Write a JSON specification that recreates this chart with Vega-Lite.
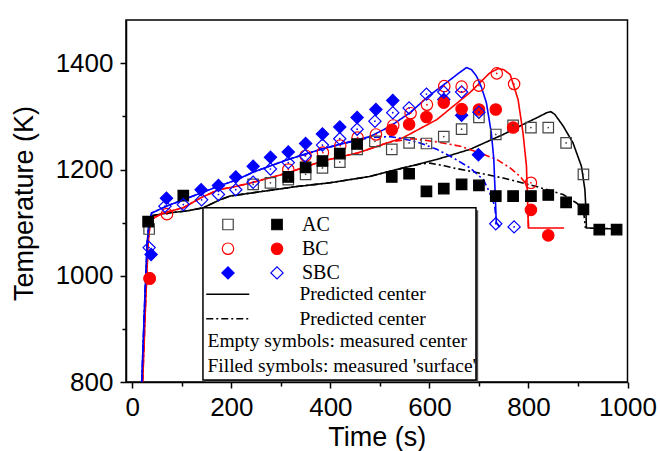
{
  "$schema": "https://vega.github.io/schema/vega-lite/v6.json",
  "width": 501.5,
  "height": 362,
  "autosize": {"type": "none"},
  "padding": {"left": 126, "top": 20, "right": 32.5, "bottom": 69},
  "background": "white",
  "config": {
    "font": "Liberation Sans",
    "view": {"stroke": "#000000", "strokeWidth": 1.5},
    "axis": {"grid": false, "domainColor": "#000000", "domainWidth": 1.5, "tickColor": "#000000", "tickWidth": 1.5, "labelColor": "#000000", "titleColor": "#000000", "labelFont": "Liberation Sans", "titleFont": "Liberation Sans", "labelFontSize": 26, "titleFontSize": 27, "titleFontWeight": "normal", "format": "d"},
    "legend": {"labelLimit": 400, "padding": 0, "labelColor": "#000000", "labelFont": "Liberation Serif"}
  },
  "datasets": {
    "meas": [
      {"t": 34, "T": 1088, "s": "AC", "loc": "center"},
      {"t": 244, "T": 1172, "s": "AC", "loc": "center"},
      {"t": 279, "T": 1175, "s": "AC", "loc": "center"},
      {"t": 315, "T": 1181, "s": "AC", "loc": "center"},
      {"t": 350, "T": 1191, "s": "AC", "loc": "center"},
      {"t": 384, "T": 1203, "s": "AC", "loc": "center"},
      {"t": 419, "T": 1214, "s": "AC", "loc": "center"},
      {"t": 454, "T": 1238, "s": "AC", "loc": "center"},
      {"t": 490, "T": 1253, "s": "AC", "loc": "center"},
      {"t": 524, "T": 1238, "s": "AC", "loc": "center"},
      {"t": 559, "T": 1250, "s": "AC", "loc": "center"},
      {"t": 594, "T": 1249, "s": "AC", "loc": "center"},
      {"t": 629, "T": 1262, "s": "AC", "loc": "center"},
      {"t": 665, "T": 1276, "s": "AC", "loc": "center"},
      {"t": 700, "T": 1298, "s": "AC", "loc": "center"},
      {"t": 734, "T": 1266, "s": "AC", "loc": "center"},
      {"t": 769, "T": 1283, "s": "AC", "loc": "center"},
      {"t": 805, "T": 1279, "s": "AC", "loc": "center"},
      {"t": 840, "T": 1279, "s": "AC", "loc": "center"},
      {"t": 876, "T": 1250, "s": "AC", "loc": "center"},
      {"t": 911, "T": 1191, "s": "AC", "loc": "center"},
      {"t": 32, "T": 1102, "s": "AC", "loc": "surface"},
      {"t": 103, "T": 1151, "s": "AC", "loc": "surface"},
      {"t": 315, "T": 1186, "s": "AC", "loc": "surface"},
      {"t": 350, "T": 1204, "s": "AC", "loc": "surface"},
      {"t": 384, "T": 1216, "s": "AC", "loc": "surface"},
      {"t": 419, "T": 1230, "s": "AC", "loc": "surface"},
      {"t": 454, "T": 1248, "s": "AC", "loc": "surface"},
      {"t": 524, "T": 1186, "s": "AC", "loc": "surface"},
      {"t": 559, "T": 1192, "s": "AC", "loc": "surface"},
      {"t": 594, "T": 1159, "s": "AC", "loc": "surface"},
      {"t": 629, "T": 1164, "s": "AC", "loc": "surface"},
      {"t": 665, "T": 1172, "s": "AC", "loc": "surface"},
      {"t": 700, "T": 1170, "s": "AC", "loc": "surface"},
      {"t": 734, "T": 1150, "s": "AC", "loc": "surface"},
      {"t": 769, "T": 1150, "s": "AC", "loc": "surface"},
      {"t": 805, "T": 1150, "s": "AC", "loc": "surface"},
      {"t": 840, "T": 1152, "s": "AC", "loc": "surface"},
      {"t": 876, "T": 1138, "s": "AC", "loc": "surface"},
      {"t": 911, "T": 1125, "s": "AC", "loc": "surface"},
      {"t": 943, "T": 1087, "s": "AC", "loc": "surface"},
      {"t": 978, "T": 1087, "s": "AC", "loc": "surface"},
      {"t": 35, "T": 995, "s": "BC", "loc": "center"},
      {"t": 70, "T": 1116, "s": "BC", "loc": "center"},
      {"t": 315, "T": 1200, "s": "BC", "loc": "center"},
      {"t": 350, "T": 1226, "s": "BC", "loc": "center"},
      {"t": 385, "T": 1232, "s": "BC", "loc": "center"},
      {"t": 420, "T": 1245, "s": "BC", "loc": "center"},
      {"t": 455, "T": 1260, "s": "BC", "loc": "center"},
      {"t": 492, "T": 1266, "s": "BC", "loc": "center"},
      {"t": 527, "T": 1283, "s": "BC", "loc": "center"},
      {"t": 562, "T": 1306, "s": "BC", "loc": "center"},
      {"t": 595, "T": 1322, "s": "BC", "loc": "center"},
      {"t": 630, "T": 1357, "s": "BC", "loc": "center"},
      {"t": 665, "T": 1356, "s": "BC", "loc": "center"},
      {"t": 700, "T": 1358, "s": "BC", "loc": "center"},
      {"t": 736, "T": 1381, "s": "BC", "loc": "center"},
      {"t": 771, "T": 1361, "s": "BC", "loc": "center"},
      {"t": 805, "T": 1175, "s": "BC", "loc": "center"},
      {"t": 35, "T": 995, "s": "BC", "loc": "surface"},
      {"t": 524, "T": 1275, "s": "BC", "loc": "surface"},
      {"t": 559, "T": 1285, "s": "BC", "loc": "surface"},
      {"t": 594, "T": 1299, "s": "BC", "loc": "surface"},
      {"t": 629, "T": 1326, "s": "BC", "loc": "surface"},
      {"t": 665, "T": 1314, "s": "BC", "loc": "surface"},
      {"t": 700, "T": 1313, "s": "BC", "loc": "surface"},
      {"t": 734, "T": 1313, "s": "BC", "loc": "surface"},
      {"t": 769, "T": 1279, "s": "BC", "loc": "surface"},
      {"t": 805, "T": 1124, "s": "BC", "loc": "surface"},
      {"t": 840, "T": 1076, "s": "BC", "loc": "surface"},
      {"t": 38, "T": 1040, "s": "SBC", "loc": "surface"},
      {"t": 69, "T": 1146, "s": "SBC", "loc": "surface"},
      {"t": 139, "T": 1162, "s": "SBC", "loc": "surface"},
      {"t": 174, "T": 1170, "s": "SBC", "loc": "surface"},
      {"t": 209, "T": 1186, "s": "SBC", "loc": "surface"},
      {"t": 244, "T": 1206, "s": "SBC", "loc": "surface"},
      {"t": 279, "T": 1223, "s": "SBC", "loc": "surface"},
      {"t": 315, "T": 1233, "s": "SBC", "loc": "surface"},
      {"t": 350, "T": 1249, "s": "SBC", "loc": "surface"},
      {"t": 384, "T": 1267, "s": "SBC", "loc": "surface"},
      {"t": 419, "T": 1280, "s": "SBC", "loc": "surface"},
      {"t": 454, "T": 1298, "s": "SBC", "loc": "surface"},
      {"t": 492, "T": 1313, "s": "SBC", "loc": "surface"},
      {"t": 526, "T": 1330, "s": "SBC", "loc": "surface"},
      {"t": 629, "T": 1332, "s": "SBC", "loc": "surface"},
      {"t": 665, "T": 1302, "s": "SBC", "loc": "surface"},
      {"t": 699, "T": 1228, "s": "SBC", "loc": "surface"},
      {"t": 34, "T": 1053, "s": "SBC", "loc": "center"},
      {"t": 66, "T": 1131, "s": "SBC", "loc": "center"},
      {"t": 103, "T": 1134, "s": "SBC", "loc": "center"},
      {"t": 140, "T": 1143, "s": "SBC", "loc": "center"},
      {"t": 174, "T": 1153, "s": "SBC", "loc": "center"},
      {"t": 209, "T": 1162, "s": "SBC", "loc": "center"},
      {"t": 244, "T": 1176, "s": "SBC", "loc": "center"},
      {"t": 279, "T": 1201, "s": "SBC", "loc": "center"},
      {"t": 315, "T": 1213, "s": "SBC", "loc": "center"},
      {"t": 349, "T": 1226, "s": "SBC", "loc": "center"},
      {"t": 384, "T": 1246, "s": "SBC", "loc": "center"},
      {"t": 419, "T": 1258, "s": "SBC", "loc": "center"},
      {"t": 454, "T": 1276, "s": "SBC", "loc": "center"},
      {"t": 490, "T": 1291, "s": "SBC", "loc": "center"},
      {"t": 526, "T": 1307, "s": "SBC", "loc": "center"},
      {"t": 559, "T": 1316, "s": "SBC", "loc": "center"},
      {"t": 594, "T": 1342, "s": "SBC", "loc": "center"},
      {"t": 629, "T": 1346, "s": "SBC", "loc": "center"},
      {"t": 665, "T": 1346, "s": "SBC", "loc": "center"},
      {"t": 700, "T": 1308, "s": "SBC", "loc": "center"},
      {"t": 734, "T": 1098, "s": "SBC", "loc": "center"},
      {"t": 771, "T": 1092, "s": "SBC", "loc": "center"}
    ],
    "lines": [
      {"t": 20, "T": 800, "s": "AC", "k": "solid"}, {"t": 26, "T": 960, "s": "AC", "k": "solid"}, {"t": 31, "T": 1070, "s": "AC", "k": "solid"}, {"t": 35, "T": 1105, "s": "AC", "k": "solid"}, {"t": 40, "T": 1113, "s": "AC", "k": "solid"}, {"t": 70, "T": 1118, "s": "AC", "k": "solid"}, {"t": 110, "T": 1122, "s": "AC", "k": "solid"}, {"t": 143, "T": 1128, "s": "AC", "k": "solid"}, {"t": 177, "T": 1143, "s": "AC", "k": "solid"}, {"t": 197, "T": 1150, "s": "AC", "k": "solid"}, {"t": 264, "T": 1159, "s": "AC", "k": "solid"}, {"t": 332, "T": 1168, "s": "AC", "k": "solid"}, {"t": 399, "T": 1175, "s": "AC", "k": "solid"}, {"t": 480, "T": 1187, "s": "AC", "k": "solid"}, {"t": 547, "T": 1203, "s": "AC", "k": "solid"}, {"t": 615, "T": 1219, "s": "AC", "k": "solid"}, {"t": 682, "T": 1238, "s": "AC", "k": "solid"}, {"t": 749, "T": 1266, "s": "AC", "k": "solid"}, {"t": 783, "T": 1282, "s": "AC", "k": "solid"}, {"t": 816, "T": 1297, "s": "AC", "k": "solid"}, {"t": 837, "T": 1307, "s": "AC", "k": "solid"}, {"t": 845, "T": 1309, "s": "AC", "k": "solid"}, {"t": 853, "T": 1304, "s": "AC", "k": "solid"}, {"t": 870, "T": 1282, "s": "AC", "k": "solid"}, {"t": 890, "T": 1250, "s": "AC", "k": "solid"}, {"t": 907, "T": 1206, "s": "AC", "k": "solid"}, {"t": 914, "T": 1162, "s": "AC", "k": "solid"}, {"t": 916, "T": 1125, "s": "AC", "k": "solid"}, {"t": 917, "T": 1090, "s": "AC", "k": "solid"}, {"t": 980, "T": 1088, "s": "AC", "k": "solid"},
      {"t": 20, "T": 800, "s": "AC", "k": "dashdot"}, {"t": 26, "T": 960, "s": "AC", "k": "dashdot"}, {"t": 31, "T": 1070, "s": "AC", "k": "dashdot"}, {"t": 35, "T": 1105, "s": "AC", "k": "dashdot"}, {"t": 40, "T": 1113, "s": "AC", "k": "dashdot"}, {"t": 70, "T": 1118, "s": "AC", "k": "dashdot"}, {"t": 110, "T": 1122, "s": "AC", "k": "dashdot"}, {"t": 143, "T": 1128, "s": "AC", "k": "dashdot"}, {"t": 177, "T": 1143, "s": "AC", "k": "dashdot"}, {"t": 197, "T": 1150, "s": "AC", "k": "dashdot"}, {"t": 264, "T": 1159, "s": "AC", "k": "dashdot"}, {"t": 332, "T": 1168, "s": "AC", "k": "dashdot"}, {"t": 399, "T": 1175, "s": "AC", "k": "dashdot"}, {"t": 480, "T": 1187, "s": "AC", "k": "dashdot"}, {"t": 547, "T": 1203, "s": "AC", "k": "dashdot"}, {"t": 580, "T": 1210, "s": "AC", "k": "dashdot"}, {"t": 601, "T": 1212, "s": "AC", "k": "dashdot"}, {"t": 630, "T": 1207, "s": "AC", "k": "dashdot"}, {"t": 648, "T": 1203, "s": "AC", "k": "dashdot"}, {"t": 682, "T": 1197, "s": "AC", "k": "dashdot"}, {"t": 749, "T": 1184, "s": "AC", "k": "dashdot"}, {"t": 816, "T": 1168, "s": "AC", "k": "dashdot"}, {"t": 870, "T": 1153, "s": "AC", "k": "dashdot"}, {"t": 897, "T": 1137, "s": "AC", "k": "dashdot"}, {"t": 911, "T": 1125, "s": "AC", "k": "dashdot"}, {"t": 915, "T": 1090, "s": "AC", "k": "dashdot"},
      {"t": 21, "T": 800, "s": "BC", "k": "solid"}, {"t": 27, "T": 950, "s": "BC", "k": "solid"}, {"t": 32, "T": 1060, "s": "BC", "k": "solid"}, {"t": 36, "T": 1100, "s": "BC", "k": "solid"}, {"t": 45, "T": 1110, "s": "BC", "k": "solid"}, {"t": 63, "T": 1118, "s": "BC", "k": "solid"}, {"t": 103, "T": 1128, "s": "BC", "k": "solid"}, {"t": 139, "T": 1147, "s": "BC", "k": "solid"}, {"t": 174, "T": 1162, "s": "BC", "k": "solid"}, {"t": 209, "T": 1168, "s": "BC", "k": "solid"}, {"t": 244, "T": 1176, "s": "BC", "k": "solid"}, {"t": 315, "T": 1194, "s": "BC", "k": "solid"}, {"t": 384, "T": 1216, "s": "BC", "k": "solid"}, {"t": 454, "T": 1231, "s": "BC", "k": "solid"}, {"t": 480, "T": 1239, "s": "BC", "k": "solid"}, {"t": 547, "T": 1260, "s": "BC", "k": "solid"}, {"t": 615, "T": 1294, "s": "BC", "k": "solid"}, {"t": 682, "T": 1345, "s": "BC", "k": "solid"}, {"t": 722, "T": 1382, "s": "BC", "k": "solid"}, {"t": 739, "T": 1390, "s": "BC", "k": "solid"}, {"t": 750, "T": 1388, "s": "BC", "k": "solid"}, {"t": 763, "T": 1379, "s": "BC", "k": "solid"}, {"t": 779, "T": 1332, "s": "BC", "k": "solid"}, {"t": 789, "T": 1269, "s": "BC", "k": "solid"}, {"t": 796, "T": 1206, "s": "BC", "k": "solid"}, {"t": 799, "T": 1115, "s": "BC", "k": "solid"}, {"t": 800, "T": 1090, "s": "BC", "k": "solid"}, {"t": 872, "T": 1090, "s": "BC", "k": "solid"},
      {"t": 21, "T": 800, "s": "BC", "k": "dashdot"}, {"t": 27, "T": 950, "s": "BC", "k": "dashdot"}, {"t": 32, "T": 1060, "s": "BC", "k": "dashdot"}, {"t": 36, "T": 1100, "s": "BC", "k": "dashdot"}, {"t": 45, "T": 1110, "s": "BC", "k": "dashdot"}, {"t": 63, "T": 1118, "s": "BC", "k": "dashdot"}, {"t": 103, "T": 1128, "s": "BC", "k": "dashdot"}, {"t": 139, "T": 1147, "s": "BC", "k": "dashdot"}, {"t": 174, "T": 1162, "s": "BC", "k": "dashdot"}, {"t": 209, "T": 1168, "s": "BC", "k": "dashdot"}, {"t": 244, "T": 1176, "s": "BC", "k": "dashdot"}, {"t": 315, "T": 1194, "s": "BC", "k": "dashdot"}, {"t": 384, "T": 1216, "s": "BC", "k": "dashdot"}, {"t": 454, "T": 1231, "s": "BC", "k": "dashdot"}, {"t": 480, "T": 1239, "s": "BC", "k": "dashdot"}, {"t": 520, "T": 1252, "s": "BC", "k": "dashdot"}, {"t": 567, "T": 1258, "s": "BC", "k": "dashdot"}, {"t": 615, "T": 1252, "s": "BC", "k": "dashdot"}, {"t": 662, "T": 1244, "s": "BC", "k": "dashdot"}, {"t": 702, "T": 1231, "s": "BC", "k": "dashdot"}, {"t": 736, "T": 1219, "s": "BC", "k": "dashdot"}, {"t": 763, "T": 1203, "s": "BC", "k": "dashdot"}, {"t": 783, "T": 1187, "s": "BC", "k": "dashdot"}, {"t": 796, "T": 1172, "s": "BC", "k": "dashdot"}, {"t": 799, "T": 1140, "s": "BC", "k": "dashdot"}, {"t": 800, "T": 1090, "s": "BC", "k": "dashdot"},
      {"t": 19, "T": 800, "s": "SBC", "k": "solid"}, {"t": 25, "T": 950, "s": "SBC", "k": "solid"}, {"t": 30, "T": 1060, "s": "SBC", "k": "solid"}, {"t": 34, "T": 1100, "s": "SBC", "k": "solid"}, {"t": 39, "T": 1118, "s": "SBC", "k": "solid"}, {"t": 69, "T": 1131, "s": "SBC", "k": "solid"}, {"t": 139, "T": 1156, "s": "SBC", "k": "solid"}, {"t": 175, "T": 1169, "s": "SBC", "k": "solid"}, {"t": 209, "T": 1180, "s": "SBC", "k": "solid"}, {"t": 244, "T": 1195, "s": "SBC", "k": "solid"}, {"t": 315, "T": 1219, "s": "SBC", "k": "solid"}, {"t": 384, "T": 1239, "s": "SBC", "k": "solid"}, {"t": 480, "T": 1262, "s": "SBC", "k": "solid"}, {"t": 520, "T": 1281, "s": "SBC", "k": "solid"}, {"t": 561, "T": 1307, "s": "SBC", "k": "solid"}, {"t": 598, "T": 1338, "s": "SBC", "k": "solid"}, {"t": 635, "T": 1364, "s": "SBC", "k": "solid"}, {"t": 660, "T": 1382, "s": "SBC", "k": "solid"}, {"t": 675, "T": 1392, "s": "SBC", "k": "solid"}, {"t": 685, "T": 1388, "s": "SBC", "k": "solid"}, {"t": 695, "T": 1376, "s": "SBC", "k": "solid"}, {"t": 705, "T": 1355, "s": "SBC", "k": "solid"}, {"t": 715, "T": 1326, "s": "SBC", "k": "solid"}, {"t": 725, "T": 1269, "s": "SBC", "k": "solid"}, {"t": 730, "T": 1220, "s": "SBC", "k": "solid"}, {"t": 733, "T": 1150, "s": "SBC", "k": "solid"}, {"t": 735, "T": 1100, "s": "SBC", "k": "solid"}, {"t": 742, "T": 1092, "s": "SBC", "k": "solid"},
      {"t": 19, "T": 800, "s": "SBC", "k": "dashdot"}, {"t": 25, "T": 950, "s": "SBC", "k": "dashdot"}, {"t": 30, "T": 1060, "s": "SBC", "k": "dashdot"}, {"t": 34, "T": 1100, "s": "SBC", "k": "dashdot"}, {"t": 39, "T": 1118, "s": "SBC", "k": "dashdot"}, {"t": 69, "T": 1131, "s": "SBC", "k": "dashdot"}, {"t": 139, "T": 1156, "s": "SBC", "k": "dashdot"}, {"t": 175, "T": 1169, "s": "SBC", "k": "dashdot"}, {"t": 209, "T": 1180, "s": "SBC", "k": "dashdot"}, {"t": 244, "T": 1195, "s": "SBC", "k": "dashdot"}, {"t": 315, "T": 1219, "s": "SBC", "k": "dashdot"}, {"t": 384, "T": 1239, "s": "SBC", "k": "dashdot"}, {"t": 440, "T": 1252, "s": "SBC", "k": "dashdot"}, {"t": 480, "T": 1260, "s": "SBC", "k": "dashdot"}, {"t": 520, "T": 1262, "s": "SBC", "k": "dashdot"}, {"t": 548, "T": 1258, "s": "SBC", "k": "dashdot"}, {"t": 581, "T": 1250, "s": "SBC", "k": "dashdot"}, {"t": 615, "T": 1238, "s": "SBC", "k": "dashdot"}, {"t": 648, "T": 1222, "s": "SBC", "k": "dashdot"}, {"t": 682, "T": 1203, "s": "SBC", "k": "dashdot"}, {"t": 709, "T": 1181, "s": "SBC", "k": "dashdot"}, {"t": 722, "T": 1156, "s": "SBC", "k": "dashdot"}, {"t": 732, "T": 1131, "s": "SBC", "k": "dashdot"}, {"t": 735, "T": 1100, "s": "SBC", "k": "dashdot"}, {"t": 742, "T": 1092, "s": "SBC", "k": "dashdot"}
    ]
  },
  "layer": [
    {
      "data": {"name": "lines"},
      "mark": {"type": "line", "strokeWidth": 1.6, "clip": true},
      "encoding": {
        "x": {"field": "t", "type": "quantitative", "scale": {"domain": [-12.7, 1000], "nice": false, "zero": false},
          "axis": {"title": "Time (s)", "values": [0, 100, 200, 300, 400, 500, 600, 700, 800, 900, 1000], "labelExpr": "datum.value % 200 === 0 ? datum.label : ''", "labelFlush": false, "labelOverlap": false, "tickSize": {"condition": {"test": "datum.value % 200 === 0", "value": 6}, "value": 4}, "labelPadding": 6, "titleY": 42, "titleBaseline": "top"}},
        "y": {"field": "T", "type": "quantitative", "scale": {"domain": [800, 1481.5], "nice": false, "zero": false},
          "axis": {"title": "Temperature (K)", "values": [800, 900, 1000, 1100, 1200, 1300, 1400], "labelExpr": "datum.value % 200 === 0 ? datum.label : ''", "labelOverlap": false, "tickSize": {"condition": {"test": "datum.value % 200 === 0", "value": 6}, "value": 4}, "labelPadding": 7, "titleX": -88, "titleY": 183}},
        "stroke": {"field": "s", "type": "nominal", "scale": {"domain": ["AC", "BC", "SBC"], "range": ["#000000", "#ff0000", "#0000ff"]}, "legend": null},
        "strokeDash": {"field": "k", "type": "nominal", "scale": {"domain": ["solid", "dashdot"], "range": [[1, 0], [7, 3, 2, 3]]},
          "legend": {"orient": "none", "legendX": 92, "legendY": 264.5, "title": null, "symbolType": "M-2.5,0H2.5", "symbolSize": 296, "symbolStrokeColor": "#000000", "symbolStrokeWidth": 1.6, "symbolFillColor": "transparent", "labelExpr": "'Predicted center'", "labelFontSize": 19.5, "labelOffset": 62, "rowPadding": 3.5}}
      }
    },
    {
      "data": {"name": "meas"},
      "transform": [{"filter": "(datum.s != 'SBC' && datum.loc == 'center') || (datum.s == 'SBC' && datum.loc == 'surface')"}],
      "mark": {"type": "point", "strokeWidth": 1.2, "opacity": 1},
      "encoding": {
        "x": {"field": "t", "type": "quantitative"},
        "y": {"field": "T", "type": "quantitative"},
        "shape": {"field": "s", "type": "nominal", "scale": {"domain": ["AC", "BC", "SBC"], "range": ["square", "circle", "diamond"]},
          "legend": {"orient": "none", "legendX": 92, "legendY": 194.5, "title": null, "labelExpr": "''", "labelFontSize": 20, "rowPadding": 4.2, "symbolStrokeWidth": 1.2}},
        "size": {"field": "s", "type": "nominal", "scale": {"domain": ["AC", "BC", "SBC"], "range": [110, 150, 240]}},
        "stroke": {"field": "s", "type": "nominal", "scale": {"domain": ["AC", "BC", "SBC"], "range": ["#444444", "#ff0000", "#0000ff"]}},
        "fill": {"field": "s", "type": "nominal", "scale": {"domain": ["AC", "BC", "SBC"], "range": ["transparent", "transparent", "#0000ff"]}},
        "opacity": {"field": "loc", "type": "ordinal", "scale": {"type": "ordinal", "domain": ["center", "surface"], "range": [1, 1]},
          "legend": {"orient": "none", "legendX": 62, "legendY": 311.5, "title": null, "symbolOpacity": 0, "symbolSize": 0, "symbolStrokeWidth": 0, "labelOffset": 0, "labelFontSize": 19.5, "rowPadding": 4, "labelExpr": "datum.value == 'center' ? 'Empty symbols: measured center' : \"Filled symbols: measured 'surface'\""}}
      }
    },
    {
      "data": {"name": "meas"},
      "transform": [{"filter": "(datum.s != 'SBC' && datum.loc == 'surface') || (datum.s == 'SBC' && datum.loc == 'center')"}],
      "mark": {"type": "point", "strokeWidth": 1.2, "opacity": 1},
      "encoding": {
        "x": {"field": "t", "type": "quantitative"},
        "y": {"field": "T", "type": "quantitative"},
        "shape": {"field": "s", "type": "nominal", "scale": {"domain": ["AC", "BC", "SBC"], "range": ["square", "circle", "diamond"]},
          "legend": {"orient": "none", "legendX": 141, "legendY": 194.5, "title": null, "labelFontSize": 20, "labelOffset": 15, "rowPadding": 4.2, "symbolStrokeWidth": 1.2}},
        "size": {"field": "s", "type": "nominal", "scale": {"domain": ["AC", "BC", "SBC"], "range": [110, 150, 240]}},
        "stroke": {"field": "s", "type": "nominal", "scale": {"domain": ["AC", "BC", "SBC"], "range": ["#000000", "#ff0000", "#0000ff"]}},
        "fill": {"field": "s", "type": "nominal", "scale": {"domain": ["AC", "BC", "SBC"], "range": ["#000000", "#ff0000", "transparent"]}}
      }
    },
    {
      "data": {"name": "meas"},
      "transform": [{"filter": "datum.loc == 'center'"}],
      "mark": {"type": "point", "filled": true, "size": 3, "strokeWidth": 0, "opacity": 1},
      "encoding": {
        "x": {"field": "t", "type": "quantitative"},
        "y": {"field": "T", "type": "quantitative"},
        "fill": {"field": "s", "type": "nominal", "scale": {"domain": ["AC", "BC", "SBC"], "range": ["#444444", "#ff0000", "#0000ff"]}, "legend": null}
      }
    },
    {
      "data": {"values": [{}]},
      "mark": {"type": "rect", "fill": "#555555"},
      "encoding": {
        "x": {"datum": 147.5, "type": "quantitative"},
        "x2": {"datum": 698.5},
        "y": {"datum": 1123.5, "type": "quantitative"},
        "y2": {"datum": 800}
      }
    },
    {
      "data": {"values": [{}]},
      "mark": {"type": "rect", "fill": "#ffffff", "stroke": "#000000", "strokeWidth": 1.5},
      "encoding": {
        "x": {"datum": 142.7, "type": "quantitative"},
        "x2": {"datum": 694},
        "y": {"datum": 1128, "type": "quantitative"},
        "y2": {"datum": 804}
      }
    }
  ],
  "resolve": {"scale": {"shape": "independent", "size": "independent", "stroke": "independent", "fill": "independent", "opacity": "independent", "strokeDash": "independent"}}
}
